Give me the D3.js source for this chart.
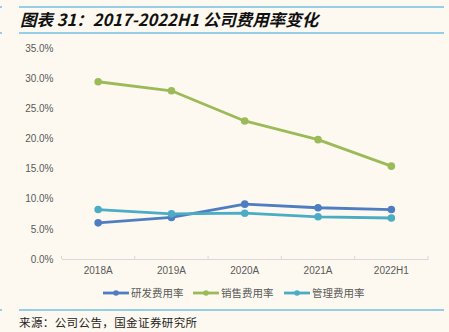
<!DOCTYPE html>
<html><head><meta charset="utf-8">
<script src="https://cdn.jsdelivr.net/npm/d3@7"></script>
<style>body{margin:0;background:#FDF9F0;}svg{display:block;}</style>
</head><body>
<script>
const categories = ["2018A","2019A","2020A","2021A","2022H1"];
const seriesNames = ["研发费用率","销售费用率","管理费用率"];
const rdValues = [6.0, 6.9, 9.1, 8.5, 8.2];
const salesValues = [29.4, 27.9, 22.9, 19.8, 15.4];
const adminValues = [8.2, 7.5, 7.6, 7.0, 6.8];
const yTicks = [0,5,10,15,20,25,30,35];
const colors = ["#4E7EC1","#9BBB59","#4BACC6"];
const series = [rdValues, salesValues, adminValues];

const W=449,H=332;
const svg=d3.select("body").append("svg").attr("width",W).attr("height",H);
svg.append("rect").attr("width",W).attr("height",H).attr("fill","#FDF9F0");
const lc="#2EA3DD";
[7,33,310].forEach(y=>{
  svg.append("line").attr("x1",19).attr("x2",444).attr("y1",y).attr("y2",y).attr("stroke",lc).attr("stroke-width",1.2);
  svg.append("line").attr("x1",0).attr("x2",2).attr("y1",y).attr("y2",y).attr("stroke",lc).attr("stroke-width",1.2);
});
svg.append("text").attr("x",20).attr("y",26).attr("font-family","'Noto Sans CJK SC', sans-serif")
  .attr("font-size",16.5).attr("font-weight","bold").attr("font-style","italic").attr("fill","#111")
  .text("图表 31：2017-2022H1 公司费用率变化");
svg.append("text").attr("x",19).attr("y",327).attr("font-family","'Noto Sans CJK SC', sans-serif")
  .attr("font-size",11.5).attr("letter-spacing",0.4).attr("fill","#222").text("来源：公司公告，国金证券研究所");

const x=d3.scaleBand().domain(categories).range([61.5,428]);
const y=d3.scaleLinear().domain([0,35]).range([259,48]);
const font="'Liberation Sans', Arial, sans-serif";
const gy=svg.append("g").attr("transform","translate(61.5,0)")
  .call(d3.axisLeft(y).tickValues(yTicks).tickFormat(d=>d.toFixed(1)+"%").tickSize(0).tickPadding(8));
gy.select(".domain").remove();
gy.selectAll("text").attr("font-family",font).attr("font-size",10).attr("fill","#595959");
const gx=svg.append("g").attr("transform","translate(0,259)")
  .call(d3.axisBottom(x).tickSize(0).tickPadding(8));
gx.select(".domain").attr("stroke","#D9D9D9");
gx.selectAll("text").attr("font-family",font).attr("font-size",10).attr("fill","#595959");
const bounds=categories.map(c=>x(c)).concat([x.range()[1]]);
svg.selectAll(".bt").data(bounds).enter().append("line")
  .attr("x1",d=>d).attr("x2",d=>d).attr("y1",256).attr("y2",259).attr("stroke","#D9D9D9");

const line=d3.line().x((d,i)=>x(categories[i])+x.bandwidth()/2).y(d=>y(d));
series.forEach((s,k)=>{
  svg.append("path").datum(s).attr("d",line).attr("fill","none").attr("stroke",colors[k]).attr("stroke-width",2.8).attr("stroke-linejoin","round");
  svg.selectAll(".m"+k).data(s).enter().append("circle")
    .attr("cx",(d,i)=>x(categories[i])+x.bandwidth()/2).attr("cy",d=>y(d)).attr("r",3.8).attr("fill",colors[k]);
});
const lx=[103,193,284];
seriesNames.forEach((n,k)=>{
  const g=svg.append("g");
  g.append("line").attr("x1",lx[k]).attr("x2",lx[k]+26).attr("y1",293).attr("y2",293).attr("stroke",colors[k]).attr("stroke-width",2.8);
  g.append("circle").attr("cx",lx[k]+13).attr("cy",293).attr("r",2.8).attr("fill",colors[k]);
  g.append("text").attr("x",lx[k]+28).attr("y",297).attr("font-family","'Noto Sans CJK SC', sans-serif").attr("font-size",10.5).attr("fill","#595959").text(n);
});
</script>
</body></html>
